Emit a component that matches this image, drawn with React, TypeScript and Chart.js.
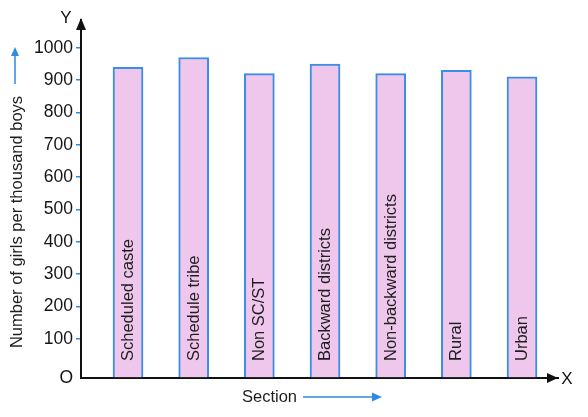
import React, { useEffect, useRef } from "react";
import { Chart, registerables } from "chart.js";

Chart.register(...registerables);

const categories = [
  "Scheduled caste",
  "Schedule tribe",
  "Non SC/ST",
  "Backward districts",
  "Non-backward districts",
  "Rural",
  "Urban",
];
const values = [940, 970, 920, 950, 920, 930, 910];
const yTickValues = [100, 200, 300, 400, 500, 600, 700, 800, 900, 1000];
const yTitle = "Number of girls per thousand boys";
const xTitle = "Section";

const Y_MIN = -21;
const Y_MAX = 1086;
const X_MIN = -0.716;
const X_MAX = 6.548;

const FONT = "'Liberation Sans', Arial, Helvetica, sans-serif";
const BLUE = "#2f8ae2";

const decorPlugin = {
  id: "decor",
  afterDatasetsDraw(chart: any) {
    const ctx = chart.ctx;
    const meta = chart.getDatasetMeta(0);
    const yBase = chart.chartArea.bottom - 17;
    ctx.save();
    ctx.fillStyle = "#1e1e1e";
    ctx.font = `16.5px ${FONT}`;
    ctx.textAlign = "left";
    ctx.textBaseline = "middle";
    meta.data.forEach((el: any, i: number) => {
      ctx.save();
      ctx.translate(el.x + 0.5, yBase);
      ctx.rotate(-Math.PI / 2);
      ctx.fillText(categories[i], 0, 0);
      ctx.restore();
    });
    ctx.restore();
  },
  afterDraw(chart: any) {
    const ctx = chart.ctx;
    const { left, right, top, bottom } = chart.chartArea;
    ctx.save();
    // axis arrowheads
    ctx.fillStyle = "#111";
    ctx.beginPath();
    ctx.moveTo(left, top - 2);
    ctx.lineTo(left - 5, top + 10);
    ctx.lineTo(left + 5, top + 10);
    ctx.closePath();
    ctx.fill();
    ctx.beginPath();
    ctx.moveTo(right, bottom);
    ctx.lineTo(right - 11, bottom - 5);
    ctx.lineTo(right - 11, bottom + 5);
    ctx.closePath();
    ctx.fill();

    // axis letters
    ctx.fillStyle = "#111";
    ctx.font = `17px ${FONT}`;
    ctx.textAlign = "center";
    ctx.textBaseline = "middle";
    ctx.fillText("Y", left - 15, top - 2);
    ctx.fillText("X", right + 9, bottom + 1);

    // y title
    ctx.save();
    ctx.font = `16.5px ${FONT}`;
    ctx.fillStyle = "#1e1e1e";
    ctx.translate(17, 222);
    ctx.rotate(-Math.PI / 2);
    ctx.textAlign = "center";
    ctx.textBaseline = "middle";
    ctx.fillText(yTitle, 0, 0);
    ctx.restore();

    // y title arrow
    ctx.strokeStyle = BLUE;
    ctx.fillStyle = BLUE;
    ctx.lineWidth = 1.5;
    ctx.beginPath();
    ctx.moveTo(15, 84);
    ctx.lineTo(15, 54);
    ctx.stroke();
    ctx.beginPath();
    ctx.moveTo(15, 47);
    ctx.lineTo(11, 56);
    ctx.lineTo(19, 56);
    ctx.closePath();
    ctx.fill();

    // x title
    ctx.font = `16.5px ${FONT}`;
    ctx.fillStyle = "#1e1e1e";
    ctx.textAlign = "left";
    ctx.textBaseline = "middle";
    ctx.fillText(xTitle, 242, 397);

    // x title arrow
    ctx.strokeStyle = BLUE;
    ctx.fillStyle = BLUE;
    ctx.beginPath();
    ctx.moveTo(303, 397);
    ctx.lineTo(374, 397);
    ctx.stroke();
    ctx.beginPath();
    ctx.moveTo(382, 397);
    ctx.lineTo(372, 392.5);
    ctx.lineTo(372, 401.5);
    ctx.closePath();
    ctx.fill();
    ctx.restore();
  },
};

export default function App() {
  const canvasRef = useRef<HTMLCanvasElement | null>(null);

  useEffect(() => {
    if (!canvasRef.current) return;
    const chart = new Chart(canvasRef.current, {
      type: "bar",
      data: {
        datasets: [
          {
            data: values.map((v, i) => ({ x: i, y: v })),
            backgroundColor: "#efc6ec",
            borderColor: "#3a8fe4",
            borderWidth: 2,
            borderSkipped: "bottom",
            barThickness: 30,
            base: Y_MIN,
          } as any,
        ],
      },
      options: {
        animation: false,
        responsive: true,
        maintainAspectRatio: false,
        layout: { padding: { top: 20, right: 30, bottom: 0, left: 0 } },
        plugins: {
          legend: { display: false },
          tooltip: { enabled: false },
          title: { display: false },
        },
        scales: {
          x: {
            type: "linear",
            min: X_MIN,
            max: X_MAX,
            offset: false,
            z: 1,
            grid: { display: false, offset: false },
            ticks: { display: false },
            border: { display: true, color: "#111", width: 2 },
            afterFit: (scale: any) => {
              scale.height = 39;
            },
          },
          y: {
            type: "linear",
            min: Y_MIN,
            max: Y_MAX,
            z: 1,
            afterBuildTicks: (axis: any) => {
              axis.ticks = [Y_MIN, ...yTickValues].map((v) => ({ value: v }));
            },
            afterFit: (scale: any) => {
              scale.width = 81;
            },
            grid: {
              drawOnChartArea: false,
              drawTicks: true,
              tickLength: 5,
              lineWidth: 1.5,
              color: (c: any) => (c.tick && c.tick.value < 0 ? "rgba(0,0,0,0)" : BLUE),
            },
            border: { display: true, color: "#111", width: 2 },
            ticks: {
              padding: 3,
              color: "#151515",
              font: { family: FONT, size: 17.5 },
              callback: (v: any) => (Number(v) < 0 ? "O" : String(v)),
            },
          },
        },
      },
      plugins: [decorPlugin],
    });
    return () => chart.destroy();
  }, []);

  return (
    <div style={{ position: "fixed", left: 0, top: 0, width: 588, height: 417, background: "#fff" }}>
      <canvas ref={canvasRef} />
    </div>
  );
}
